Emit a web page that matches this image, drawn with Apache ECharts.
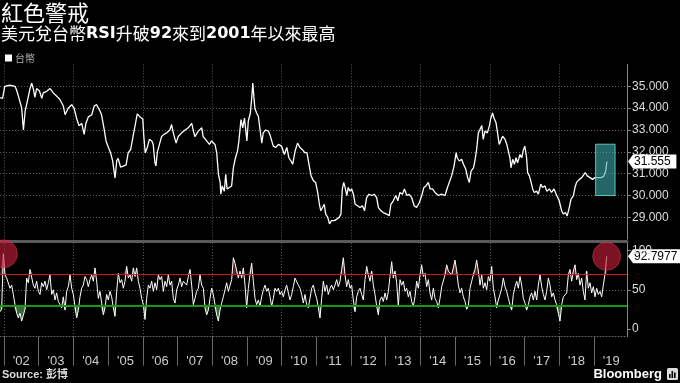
<!DOCTYPE html>
<html><head><meta charset="utf-8">
<script src="https://cdn.jsdelivr.net/npm/echarts@6/dist/echarts.min.js"></script>
<style>html,body{margin:0;padding:0;background:#000}#c{width:680px;height:383px}</style>
</head><body><div id="c"></div><script>
// ---------------- data ----------------
const titleText = '紅色警戒';
const seriesName = '台幣';
const sourceText = 'Source: 彭博';

const twdDates = [2001.885,2001.96,2002.02,2002.17,2002.32,2002.37,2002.46,2002.51,2002.56,2002.61,
2002.67,2002.75,2002.80,2002.85,2002.89,2002.94,2003.02,2003.09,2003.13,2003.23,
2003.33,2003.42,2003.52,2003.61,2003.71,2003.76,2003.85,2003.95,2004.02,2004.09,
2004.16,2004.24,2004.31,2004.36,2004.43,2004.53,2004.60,2004.67,2004.77,2004.81,
2004.88,2004.94,2005.01,2005.07,2005.13,2005.20,2005.25,2005.29,2005.36,2005.44,
2005.52,2005.58,2005.65,2005.73,2005.79,2005.84,2005.92,2006.00,2006.03,2006.07,
2006.13,2006.19,2006.26,2006.30,2006.35,2006.38,2006.42,2006.48,2006.54,2006.61,
2006.69,2006.78,2006.83,2006.88,2006.96,2007.02,2007.12,2007.22,2007.31,2007.41,
2007.46,2007.50,2007.60,2007.70,2007.74,2007.84,2007.92,2007.98,2008.08,2008.13,
2008.18,2008.23,2008.25,2008.29,2008.35,2008.39,2008.43,2008.485,2008.56,2008.61,
2008.66,2008.73,2008.77,2008.83,2008.88,2008.93,2008.97,2009.00,2009.04,2009.10,
2009.14,2009.17,2009.20,2009.23,2009.28,2009.33,2009.38,2009.43,2009.47,2009.54,
2009.62,2009.68,2009.76,2009.83,2009.91,2010.00,2010.08,2010.15,2010.21,2010.27,
2010.32,2010.39,2010.46,2010.53,2010.60,2010.67,2010.73,2010.79,2010.85,2010.92,
2010.98,2011.04,2011.09,2011.13,2011.18,2011.23,2011.27,2011.33,2011.38,2011.44,
2011.52,2011.59,2011.66,2011.71,2011.75,2011.79,2011.83,2011.88,2011.92,2011.97,
2012.02,2012.07,2012.12,2012.19,2012.26,2012.33,2012.39,2012.45,2012.52,2012.60,
2012.67,2012.74,2012.79,2012.865,2012.93,2013.03,2013.10,2013.15,2013.22,2013.29,
2013.35,2013.41,2013.48,2013.54,2013.61,2013.67,2013.75,2013.82,2013.89,2013.97,
2014.04,2014.10,2014.16,2014.23,2014.28,2014.35,2014.42,2014.52,2014.61,2014.71,
2014.78,2014.83,2014.90,2014.97,2015.03,2015.06,2015.12,2015.19,2015.24,2015.31,
2015.36,2015.41,2015.46,2015.53,2015.57,2015.62,2015.67,2015.72,2015.77,2015.81,
2015.86,2015.93,2015.99,2016.03,2016.08,2016.12,2016.18,2016.23,2016.27,2016.32,
2016.37,2016.44,2016.49,2016.53,2016.58,2016.61,2016.66,2016.71,2016.755,2016.80,
2016.87,2016.92,2016.97,2017.01,2017.06,2017.09,2017.14,2017.18,2017.235,2017.28,
2017.35,2017.40,2017.47,2017.52,2017.59,2017.64,2017.72,2017.78,2017.85,2017.93,
2018.00,2018.07,2018.12,2018.18,2018.23,2018.29,2018.34,2018.41,2018.455,2018.50,
2018.58,2018.65,2018.70,2018.75,2018.81,2018.89,2018.96,2019.03,2019.13,2019.22,
2019.29,2019.34,2019.37,2019.38];

const twdValues = [34.48,34.45,35.0,35.05,35.0,34.8,34.3,34.0,33.0,33.86,
34.3,34.9,35.15,34.85,34.5,34.9,34.8,34.45,34.7,34.77,
34.9,34.7,34.55,34.4,34.1,33.7,34.0,34.16,34.0,33.55,
33.2,33.3,32.8,33.3,33.6,33.7,34.1,34.16,33.86,33.7,
33.1,32.5,32.2,31.96,31.6,30.8,31.6,31.7,31.3,31.35,
31.4,31.96,32.1,32.8,33.3,33.74,33.6,33.5,32.7,31.96,
32.2,32.57,32.5,32.34,31.5,31.35,32.0,32.34,32.7,32.8,
32.87,33.0,33.25,32.87,32.4,32.7,32.87,33.0,33.1,33.3,
32.95,32.7,32.95,33.1,32.7,32.5,32.34,32.5,32.34,31.96,
30.97,30.6,30.06,30.44,30.2,30.97,30.3,30.36,30.44,31.27,
31.66,32.04,32.5,33.48,33.1,33.55,32.95,32.5,33.4,33.78,
34.47,35.15,34.54,34.0,33.78,33.63,33.0,32.4,32.87,33.0,
32.95,32.7,32.26,32.2,32.34,32.26,31.88,32.2,31.73,31.58,
31.43,32.04,32.4,32.2,32.1,31.96,31.96,31.43,30.9,30.67,
30.6,30.14,29.6,29.3,29.45,29.6,29.15,29.0,28.7,28.85,
28.85,28.92,29.0,29.15,30.3,30.6,30.37,30.0,30.37,30.2,
30.3,30.06,29.6,29.53,29.45,29.53,29.3,29.9,30.06,30.0,
30.06,29.9,29.45,29.3,29.22,29.15,29.07,29.6,29.76,30.0,
29.76,30.14,30.06,30.3,30.0,30.06,29.9,29.53,29.45,29.68,
30.0,30.37,30.44,30.6,30.3,30.3,30.14,30.0,30.06,30.0,
30.37,30.44,30.9,31.35,31.96,31.73,31.58,31.66,31.43,31.2,
30.82,30.6,31.12,31.27,31.58,32.1,32.87,32.95,33.2,32.57,
32.95,32.87,33.2,33.55,33.78,33.55,33.33,32.8,32.34,32.26,
32.72,32.57,32.34,32.26,31.73,31.27,31.66,31.43,31.73,31.5,
31.88,31.73,32.1,32.26,31.73,31.05,30.9,30.67,30.3,30.14,
30.2,30.06,30.52,30.37,30.44,30.2,30.3,30.14,30.3,30.0,
29.76,29.3,29.15,29.22,29.07,29.45,29.83,30.0,30.37,30.6,
30.74,30.82,30.74,31.05,30.9,30.82,30.74,30.82,30.82,30.82,
30.9,31.12,31.5,31.555];

// RSI sampled at an even spacing starting from the first date
const rsiStart = 2001.885;
const rsiStep = 0.048031;
const rsiValues = [22,25,96,69,65,67,52,56,44,31,
20,14,20,10,8,25,65,59,76,74,
56,52,61,48,44,59,54,61,50,59,
69,44,50,37,46,35,31,27,41,24,
48,54,69,52,44,29,14,24,41,52,
56,67,63,54,63,69,61,78,61,39,
48,33,18,27,44,37,48,41,27,16,
48,71,59,63,52,61,80,65,69,61,
78,67,78,61,52,39,31,12,39,56,
52,61,48,59,50,69,63,67,48,61,
54,69,56,61,39,33,50,56,65,54,
61,63,56,67,76,56,31,39,48,52,
69,56,52,27,18,24,39,52,44,31,
18,10,24,33,41,50,59,48,50,63,
91,84,86,65,74,65,78,56,27,52,
69,84,61,39,31,37,29,41,50,56,
48,52,41,29,39,52,48,52,44,48,
41,50,56,46,37,44,54,65,67,56,
52,44,33,44,31,27,39,52,56,
46,39,27,14,39,61,48,56,44,52,
56,50,56,63,54,61,76,91,69,54,
63,52,56,37,22,41,48,52,44,37,
63,80,69,61,74,56,44,29,18,37,
41,35,46,37,48,67,86,65,74,59,
29,63,56,61,48,52,41,48,35,29,
41,61,52,69,82,67,71,54,63,46,
37,52,39,35,27,39,54,56,69,82,
74,76,69,78,88,74,56,46,52,41,
35,25,29,52,61,69,76,88,74,56,
69,52,59,50,67,61,80,52,41,27,
37,44,52,65,54,48,39,31,24,44,
54,61,52,67,56,39,33,24,31,41,
46,37,48,37,56,69,54,44,37,48,
65,56,41,46,37,31,20,10,31,41,
39,46,69,76,61,74,82,63,71,56,
65,48,37,74,52,59,46,54,41,52,
44,48,41,56,70,92.7977];
const rsiUpper = 70;
const rsiLower = 30;

const yearTicks = [2002,2003,2004,2005,2006,2007,2008,2009,2010,2011,2012,2013,2014,2015,2016,2017,2018,2019];
const yearLabels = ["'02","'03","'04","'05","'06","'07","'08","'09","'10","'11","'12","'13","'14","'15","'16","'17","'18","'19"];
const twdTicks = [29,30,31,32,33,34,35];
const rsiTicks = [0,50,100];
// highlight box (time span and value span of the annotation)
const boxX = [2019.05, 2019.61];
const boxY = [30.0, 32.35];

// ---------------- chart ----------------
const xMin = 2001.885, xMax = 2019.954;
const NUM = '"Liberation Sans", Arial, sans-serif';
const CJK = '"Noto Sans CJK TC", "Noto Sans CJK SC", sans-serif';
const twdData = twdDates.map((t, i) => [t, twdValues[i]]);
const rsiDates = rsiValues.map((_, i) => +(rsiStart + i * rsiStep).toFixed(4));
const rsiData = rsiValues.map((v, i) => [rsiDates[i], v]);
const lowData = rsiValues.map((v, i) => [rsiDates[i], Math.min(v, rsiLower)]);
const highData = rsiValues.map((v, i) => [rsiDates[i], Math.max(v, rsiUpper)]);
const evenYears = yearTicks.filter(y => y % 2 === 0);
const gridLine = { color: '#5e5e5e', type: [1, 2], width: 1 };

// left peak (max in the first few samples) and last point
let pk = 0; for (let i = 0; i < 8; i++) if (rsiValues[i] > rsiValues[pk]) pk = i;
const lastR = rsiValues.length - 1;

function gridXAxis(gi) {
  return { type: 'value', gridIndex: gi, min: xMin, max: xMax, position: 'top',
    axisLine: { show: false }, axisLabel: { show: false },
    axisTick: { show: false, customValues: evenYears },
    splitLine: { show: true, lineStyle: gridLine } };
}

const chart = echarts.init(document.getElementById('c'));
chart.setOption({
  backgroundColor: '#000',
  animation: false,
  title: [
    { text: titleText, left: 1, top: 2, padding: 0,
      textStyle: { color: '#fff', fontSize: 22, fontWeight: 'normal', fontFamily: CJK } },
    { text: '{c|美元兌台幣}{b|RSI}{c|升破}{b|92}{c|來到}{b|2001}{c|年以來最高}', left: 1, top: 25, padding: 0,
      textStyle: { rich: {
        c: { color: '#fff', fontSize: 17, fontFamily: CJK, fontWeight: 'normal' },
        b: { color: '#fff', fontSize: 16, fontFamily: '"DejaVu Sans", sans-serif', fontWeight: 'bold' } } } }
  ],
  legend: { data: [seriesName], left: 5, top: 53, padding: 0, icon: 'rect', itemWidth: 7, itemHeight: 7,
    textStyle: { color: '#aaa', fontSize: 10, fontFamily: CJK, padding: [0, 0, 0, -2] } },
  grid: [
    { left: 0, right: 53, top: 64.5, height: 174.7 },
    { left: 0, right: 53, top: 242.9, height: 93.8 }
  ],
  xAxis: [
    { type: 'value', gridIndex: 0, min: xMin, max: xMax, offset: 2,
      axisLine: { show: true, onZero: false, lineStyle: { color: '#5a5a5a', width: 3 } },
      axisTick: { show: false }, axisLabel: { show: false }, splitLine: { show: false } },
    { type: 'value', gridIndex: 1, min: xMin, max: xMax,
      axisLine: { show: true, onZero: false, lineStyle: { color: '#666', type: [1, 2] } },
      axisTick: { show: true, customValues: yearTicks, length: 29, lineStyle: { color: '#6a6a6a' } },
      axisLabel: { customValues: yearTicks.map(y => y + 0.5), color: '#ccc', fontSize: 13, fontFamily: NUM, margin: 18,
        formatter: v => yearLabels[yearTicks.indexOf(Math.floor(v))] },
      splitLine: { show: false } },
    gridXAxis(0),
    gridXAxis(1)
  ],
  yAxis: [
    { type: 'value', gridIndex: 0, position: 'right', min: 28, max: 36, interval: 1,
      axisLine: { show: true, lineStyle: { color: '#888' } },
      axisTick: { show: true, length: 4, lineStyle: { color: '#888' } },
      axisLabel: { showMinLabel: false, showMaxLabel: false, color: '#ddd', fontSize: 12, fontFamily: NUM, margin: 5,
        formatter: v => twdTicks.includes(v) ? v.toFixed(3) : '' },
      splitLine: { show: true, showMinLine: false, showMaxLine: false, lineStyle: gridLine } },
    { type: 'value', gridIndex: 1, position: 'right', min: -10, max: 110,
      axisLine: { show: true, lineStyle: { color: '#888' } },
      axisTick: { show: true, customValues: rsiTicks, length: 4, lineStyle: { color: '#888' } },
      axisLabel: { customValues: rsiTicks, color: '#ddd', fontSize: 12, fontFamily: NUM, margin: 5 },
      splitLine: { show: true, showMinLine: false, showMaxLine: false, lineStyle: gridLine } }
  ],
  series: [
    { name: seriesName, type: 'line', xAxisIndex: 0, yAxisIndex: 0, data: twdData, showSymbol: false, z: 3,
      lineStyle: { color: '#fff', width: 1.3 }, itemStyle: { color: '#fff' } },
    { name: 'box', type: 'line', xAxisIndex: 0, yAxisIndex: 0, data: [], z: 10,
      markArea: { silent: true, z: 10,
        itemStyle: { color: 'rgba(60,170,170,0.6)', borderColor: 'rgba(100,210,210,0.9)', borderWidth: 1 },
        data: [[{ coord: [boxX[0], boxY[1]] }, { coord: [boxX[1], boxY[0]] }]] } },
    { name: 'low', type: 'line', xAxisIndex: 1, yAxisIndex: 1, data: lowData, showSymbol: false, z: 2,
      lineStyle: { width: 0, opacity: 0 }, areaStyle: { origin: rsiLower, color: 'rgba(90,165,90,0.9)' } },
    { name: 'high', type: 'line', xAxisIndex: 1, yAxisIndex: 1, data: highData, showSymbol: false, z: 2,
      lineStyle: { width: 0, opacity: 0 }, areaStyle: { origin: rsiUpper, color: 'rgba(150,55,55,0.85)' } },
    { name: 'RSI', type: 'line', xAxisIndex: 1, yAxisIndex: 1, data: rsiData, showSymbol: false, z: 3,
      lineStyle: { color: '#fff', width: 1 },
      markLine: { silent: true, symbol: 'none', label: { show: false },
        data: [
          { yAxis: rsiUpper, lineStyle: { color: '#d01818', width: 1.2, type: 'solid' } },
          { yAxis: rsiLower, lineStyle: { color: '#169a16', width: 2, type: 'solid' } }
        ] },
      markPoint: { silent: true, symbol: 'circle', symbolSize: 28, label: { show: false },
        itemStyle: { color: 'rgba(200,30,60,0.62)', borderColor: 'rgba(220,60,80,0.5)', borderWidth: 1 },
        data: [{ coord: rsiData[pk] }, { coord: rsiData[lastR] }] } }
  ]
});

// value tags on the right axis, placed through the library's scales
function tag(p, text) {
  const x = p[0], y = p[1], w = text.length * 6.4 + 5, h = 7;
  return { type: 'group', z: 50, children: [
    { type: 'polygon', shape: { points: [[x + 1, y], [x + 6, y - h], [x + 6 + w, y - h], [x + 6 + w, y + h], [x + 6, y + h]] },
      style: { fill: '#fff' } },
    { type: 'text', x: x + 7, y: y, style: { text: text, fill: '#000', font: '12px ' + NUM, verticalAlign: 'middle' } }
  ] };
}
const pT = chart.convertToPixel({ xAxisIndex: 0, yAxisIndex: 0 }, [xMax, twdValues[twdValues.length - 1]]);
const pR = chart.convertToPixel({ xAxisIndex: 1, yAxisIndex: 1 }, [xMax, rsiValues[lastR]]);
chart.setOption({ graphic: [
  tag(pT, twdValues[twdValues.length - 1].toFixed(3)),
  tag(pR, String(rsiValues[lastR])),
  { type: 'text', x: 2, y: 375, style: { text: sourceText, fill: '#ddd', font: 'bold 11px ' + NUM + ',' + CJK, verticalAlign: 'middle' } },
  { type: 'text', x: 662, y: 374.5, style: { text: 'Bloomberg', fill: '#fff', font: 'bold 13px ' + NUM, align: 'right', verticalAlign: 'middle' } },
  { type: 'group', children: [
    { type: 'rect', shape: { x: 667, y: 368, width: 11, height: 12, r: 1.5 }, style: { fill: '#ddd' } },
    { type: 'rect', shape: { x: 669, y: 374, width: 1.6, height: 4 }, style: { fill: '#000' } },
    { type: 'rect', shape: { x: 671.5, y: 371, width: 1.6, height: 7 }, style: { fill: '#000' } },
    { type: 'rect', shape: { x: 674, y: 372.5, width: 1.6, height: 5.5 }, style: { fill: '#000' } }
  ] }
] });
</script></body></html>
